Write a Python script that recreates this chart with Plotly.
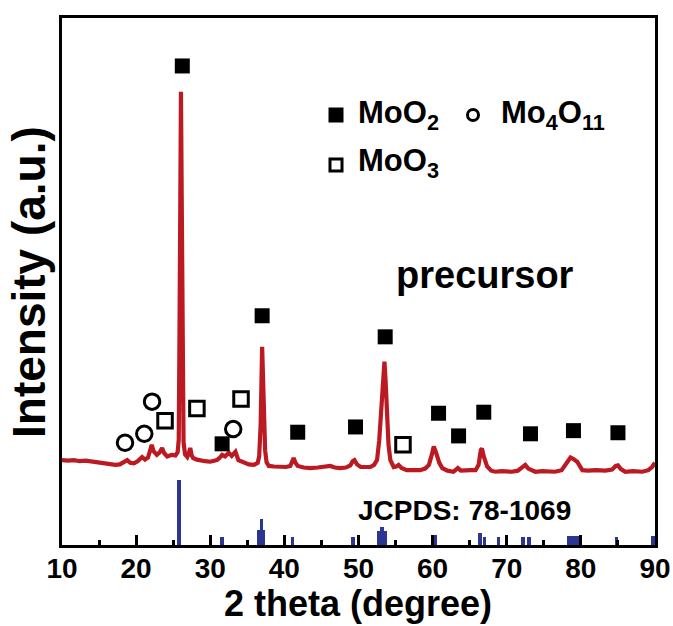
import plotly.graph_objects as go

# ---- data (2theta in degrees, intensity in a.u.) ----
curve_x = [10.0, 10.8, 11.6, 12.4, 13.2, 14.0, 14.8, 15.6, 16.4, 17.2, 17.8, 18.3, 18.8, 19.2, 19.7,
           20.2, 20.8, 21.2, 21.6, 21.9, 22.1, 22.35, 22.8, 23.2, 23.5, 23.8, 24.2, 24.8, 25.3, 25.6,
           25.75, 25.85, 25.95, 26.05, 26.15, 26.25, 26.4, 26.6, 26.9, 27.1, 27.3, 27.5, 27.7, 28.2,
           28.7, 29.3, 30.0, 30.6, 30.9, 31.3, 31.6, 32.0, 32.5, 32.9, 33.4, 33.8, 34.5, 35.2, 35.9,
           36.4, 36.6, 36.8, 36.9, 37.0, 37.1, 37.2, 37.4, 37.6, 37.9, 38.6, 39.4, 40.2, 40.8, 41.1,
           41.25, 41.5, 41.8, 42.6, 43.5, 44.5, 45.5, 46.2, 46.8, 47.5, 48.3, 48.9, 49.2, 49.45, 49.8,
           50.3, 51.0, 51.6, 52.1, 52.5, 52.8, 53.05, 53.25, 53.4, 53.5, 53.65, 53.85, 54.05, 54.3,
           54.75, 55.1, 55.4, 55.8, 56.5, 57.4, 58.3, 59.0, 59.5, 59.9, 60.15, 60.4, 60.6, 60.9, 61.3,
           62.0, 62.8, 63.4, 63.8, 64.4, 65.1, 65.8, 66.2, 66.5, 66.65, 66.9, 67.35, 67.9, 68.45, 69.3,
           70.0, 70.7, 71.5, 72.1, 72.5, 72.9, 73.85, 74.8, 75.6, 76.5, 77.4, 78.1, 78.4, 78.6, 79.0,
           79.5, 80.2, 81.0, 82.0, 82.6, 83.3, 84.2, 84.7, 85.0, 85.4, 86.0, 87.0, 88.3, 89.1, 89.6, 90.0]
curve_y = [16.1, 16.0, 16.1, 15.9, 16.0, 15.8, 15.7, 15.6, 15.4, 15.2, 15.3, 15.6, 16.1, 15.6, 15.5,
           15.9, 16.7, 16.2, 16.6, 18.0, 19.0, 17.8, 17.1, 17.6, 18.4, 17.4, 16.8, 17.1, 17.0, 17.6,
           20.0, 40.0, 68.0, 86.0, 66.0, 38.0, 19.5, 17.2, 16.7, 17.4, 18.4, 17.0, 16.5, 16.2,
           16.0, 15.9, 15.8, 15.9, 16.1, 16.6, 17.1, 16.8, 17.5, 16.9, 17.7, 16.1, 15.6, 15.3, 15.2,
           15.6, 16.8, 22.8, 30.4, 37.6, 32.8, 25.6, 18.0, 15.7, 15.0, 14.9, 14.8, 14.8, 15.0, 16.2,
           16.5, 15.6, 15.0, 14.7, 14.6, 14.7, 14.8, 15.0, 14.7, 14.6, 14.7, 15.1, 15.9, 16.1, 15.3,
           14.8, 14.8, 14.8, 15.2, 16.1, 19.9, 25.6, 28.5, 34.4, 34.8, 31.3, 25.0, 19.0, 16.1,
           14.8, 14.9, 15.2, 14.6, 14.2, 14.2, 14.2, 14.5, 15.2, 17.2, 18.7, 17.8, 16.8, 15.6, 14.6,
           14.1, 13.9, 14.6, 14.1, 14.2, 14.2, 14.2, 15.2, 18.0, 18.3, 16.8, 14.9, 14.1, 13.9, 14.0,
           13.9, 13.9, 14.1, 14.8, 15.2, 14.5, 13.9, 14.0, 13.9, 13.9, 14.2, 15.6, 16.4, 16.6, 16.3,
           15.8, 14.2, 14.1, 14.2, 14.1, 14.1, 14.3, 15.0, 15.1, 14.4, 13.9, 14.0, 13.9, 14.2, 14.8, 15.6]

# JCPDS 78-1069 reference lines
ref_x = [25.75, 31.6, 36.6, 36.9, 37.2, 41.1, 49.3, 52.8, 53.2, 53.6, 60.0, 60.4, 66.4, 67.0,
         68.9, 72.2, 73.0, 78.4, 78.9, 79.4, 79.8, 84.8, 89.7]
ref_y = [12.3, 1.6, 2.8, 4.9, 2.8, 1.5, 1.5, 2.7, 3.4, 2.7, 1.9, 1.9, 2.2, 1.6,
         1.5, 1.5, 1.5, 1.8, 1.8, 1.8, 1.8, 1.6, 1.7]

# phase markers
moo2_x = [26.23, 31.6, 37.0, 41.8, 49.6, 53.6, 60.8, 63.5, 66.9, 73.2, 79.0, 85.0]
moo2_y = [90.9, 19.2, 43.5, 21.4, 22.4, 39.5, 25.0, 20.7, 25.2, 21.1, 21.7, 21.3]
mo4o11_x = [18.5, 21.1, 22.15, 33.1]
mo4o11_y = [19.4, 21.1, 27.2, 22.0]
moo3_x = [23.9, 28.2, 34.15, 56.0]
moo3_y = [23.6, 25.9, 27.7, 19.0]

x_ticks = [10, 20, 30, 40, 50, 60, 70, 80, 90]

RED = "#BC1A22"
BLUE = "#2B3592"
FONT = "Liberation Sans"

fig = go.Figure()
fig.add_trace(go.Bar(x=ref_x, y=ref_y, width=0.5, marker=dict(color=BLUE, line=dict(width=0)),
                     showlegend=False))
fig.add_trace(go.Scatter(x=curve_x, y=curve_y, mode="lines",
                         line=dict(color=RED, width=4.2), showlegend=False))
fig.add_trace(go.Scatter(x=moo2_x, y=moo2_y, mode="markers",
                         marker=dict(symbol="square", size=15, color="black"), showlegend=False))
fig.add_trace(go.Scatter(x=mo4o11_x, y=mo4o11_y, mode="markers",
                         marker=dict(symbol="circle-open", size=15.5, color="black",
                                     line=dict(width=3, color="black")), showlegend=False))
fig.add_trace(go.Scatter(x=moo3_x, y=moo3_y, mode="markers",
                         marker=dict(symbol="square-open", size=14.5, color="black",
                                     line=dict(width=3, color="black")), showlegend=False))

L, R, T, B = 62, 655, 18, 545
W, H = 673, 626


def px(xp):
    return (xp - L) / (R - L)


def py(yp):
    return (B - yp) / (B - T)


shapes = [
    dict(type="rect", xref="paper", yref="paper", x0=px(328.5), x1=px(343.5), y0=py(122.5), y1=py(107.5),
         fillcolor="black", line=dict(width=0)),
    dict(type="circle", xref="paper", yref="paper", x0=px(467.5), x1=px(478.5), y0=py(120.5), y1=py(109.5),
         line=dict(width=3, color="black")),
    dict(type="rect", xref="paper", yref="paper", x0=px(330), x1=px(342), y0=py(171), y1=py(159),
         line=dict(width=3, color="black")),
]

bold = dict(family=FONT, color="black", weight="bold")
annotations = [
    dict(text="MoO<sub>2</sub>", x=px(356), y=py(115), xref="paper", yref="paper", xanchor="left",
         yanchor="middle", showarrow=False, font=dict(size=31, **bold)),
    dict(text="Mo<sub>4</sub>O<sub>11</sub>", x=px(499), y=py(115), xref="paper", yref="paper",
         xanchor="left", yanchor="middle", showarrow=False, font=dict(size=31, **bold)),
    dict(text="MoO<sub>3</sub>", x=px(356), y=py(163), xref="paper", yref="paper", xanchor="left",
         yanchor="middle", showarrow=False, font=dict(size=31, **bold)),
    dict(text="precursor", x=px(485), y=py(275), xref="paper", yref="paper", xanchor="center",
         yanchor="middle", showarrow=False, font=dict(size=38, **bold)),
    dict(text="JCPDS: 78-1069", x=px(464), y=py(510), xref="paper", yref="paper", xanchor="center",
         yanchor="middle", showarrow=False, font=dict(size=28, **bold)),
    dict(text="2 theta (degree)", x=px(358), y=py(603), xref="paper", yref="paper", xanchor="center",
         yanchor="middle", showarrow=False, font=dict(size=36, **bold)),
    dict(text="Intensity (a.u.)", x=px(29), y=py(282), xref="paper", yref="paper", xanchor="center",
         yanchor="middle", textangle=-90, showarrow=False, font=dict(size=46, **bold)),
]

fig.update_layout(
    width=W, height=H,
    margin=dict(l=L, r=W - R, t=T, b=H - B, autoexpand=False),
    paper_bgcolor="white", plot_bgcolor="white",
    shapes=shapes, annotations=annotations,
    bargap=0,
    xaxis=dict(range=[10, 90], tickvals=x_ticks, ticktext=[str(v) for v in x_ticks],
               ticks="inside", ticklen=10, tickwidth=3, tickcolor="black",
               minor=dict(dtick=5, tick0=0, ticks="inside", ticklen=5, tickwidth=3, tickcolor="black"),
               showline=True, linewidth=3, linecolor="black", mirror=True,
               showgrid=False, zeroline=False, automargin=False,
               tickfont=dict(size=28, **bold), ticklabelstandoff=-4),
    yaxis=dict(range=[0, 100], showticklabels=False, ticks="",
               showline=True, linewidth=3, linecolor="black", mirror=True,
               showgrid=False, zeroline=False, automargin=False),
)

fig.write_html("out.html", config={"displayModeBar": False},
               post_script="document.body.style.margin='0';document.body.style.overflow='hidden';")
